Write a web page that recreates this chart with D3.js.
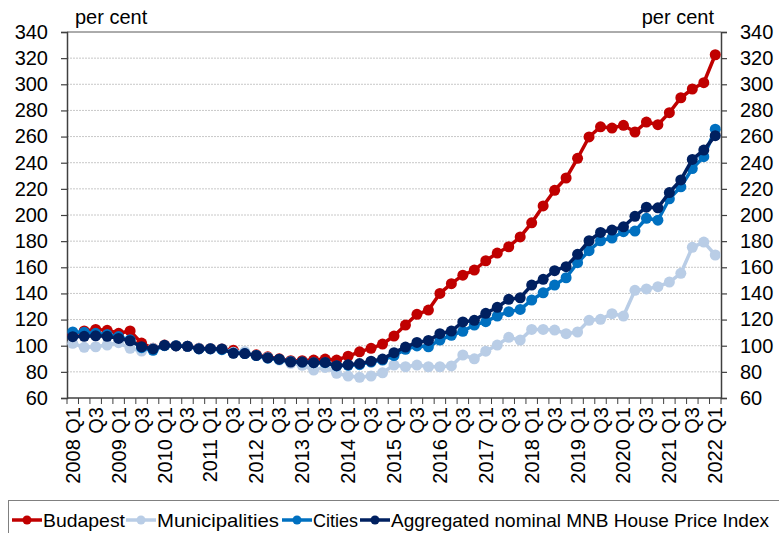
<!DOCTYPE html>
<html>
<head>
<meta charset="utf-8">
<script src="https://cdn.jsdelivr.net/npm/d3@7"></script>
<style>
  body { margin: 0; background: #fff; }
  text { font-family: "Liberation Sans", Arial, sans-serif; fill: #000; }
</style>
</head>
<body>
<div id="chart"></div>
<script>
// quarterly data, 2008 Q1 .. 2022 Q1
let years = d3.range(2008, 2023);
let quarters = [];
years.forEach(y => {
    for (let q = 1; q <= 4; q++) {
        if (y === 2022 && q > 1) break;
        quarters.push(y + " Q" + q);
    }
});

let budapest = [108.5, 111.3, 112.5, 111.8, 109.5, 111.3, 102, 98, 100.5, 100, 99.6, 98, 97.8, 97.5, 96.5, 94.5,
    93, 91.5, 90, 88.5, 88.5, 89, 89.8, 89, 92, 95.3, 98, 101.3, 107.4, 115.8, 124, 127.3,
    140, 147.5, 154, 157.9, 165, 170.9, 175.7, 183.2, 194, 206.9, 218.9, 228.3, 243.4, 259.7, 267.5, 266.5,
    268.6, 263.5, 271.1, 269.1, 278.3, 289.7, 296.4, 301.2, 322.6];

let municipalities = [101.8, 98.8, 99.2, 100.5, 102.3, 98, 95.9, 98, 100.3, 100, 99.5, 98, 97.8, 97.5, 95, 95.5,
    92.5, 91, 89, 86.5, 85, 81.4, 83.4, 78.9, 76.8, 75.8, 76.8, 79.3, 85.2, 83.9, 85.2, 83.9,
    83.9, 84.5, 92.9, 90, 95.8, 100.5, 106.4, 104.3, 112.5, 112.5, 112, 109.2, 110.5, 119.4, 120.2, 124.5,
    122.7, 142.4, 143.4, 145.2, 148.7, 155.4, 175.3, 179.3, 169.4];

let cities = [110.5, 110.3, 109.5, 108.5, 107, 104.5, 98.5, 96.5, 100, 100, 99.5, 97.5, 97.5, 97, 94.5, 94,
    92.5, 90.5, 89.5, 88, 87.5, 87, 87, 84.5, 85, 85.5, 87.5, 89, 92.5, 97.2, 99.8, 99.2,
    104.3, 108, 111, 115.8, 118.4, 122.7, 126, 127.8, 134.9, 140.5, 146.4, 152, 163.5, 172.7, 180.3, 182.4,
    187.2, 187.7, 197.5, 196, 212.4, 221.6, 235.5, 244.6, 265.6];

let aggregated = [106.9, 107.2, 107.6, 107.2, 105.6, 103.8, 99.2, 97.5, 100.3, 99.8, 99.5, 97.7, 97.7, 97.5, 94.2, 94,
    92.6, 90.8, 89.7, 87.5, 87.5, 87, 87.2, 84.7, 85.5, 86.3, 88.2, 89.8, 94.7, 99, 102.5, 104,
    109.2, 111.2, 118.2, 119.4, 124.8, 129.4, 135.5, 136.7, 146.4, 150.8, 157.4, 160.5, 169.9, 180.3, 186.7, 188.5,
    191, 199, 206, 205.5, 217.2, 226.8, 242.5, 249.7, 260.7];

let seriesNames = ["Budapest", "Municipalities", "Cities", "Aggregated nominal MNB House Price Index"];
let seriesColors = ["#c00000", "#b9cde6", "#0070c0", "#002060"];
let seriesValues = [budapest, municipalities, cities, aggregated];

let yTicks = d3.range(60, 341, 20);

let svgWidth = 779;
let svgHeight = 533;
let margin = { top: 32, right: 58, bottom: 135, left: 67 };
let width = svgWidth - margin.left - margin.right;
let height = svgHeight - margin.top - margin.bottom;

let svg = d3.select("#chart").append("svg")
    .attr("width", svgWidth)
    .attr("height", svgHeight);

let g = svg.append("g")
    .attr("transform", `translate(${margin.left}, ${margin.top})`);

let x = d3.scaleBand()
    .domain(quarters)
    .range([0, width])
    .padding(0);
let cx = d => x(d) + x.bandwidth() / 2;

let y = d3.scaleLinear()
    .domain([60, 340])
    .range([height, 0]);

// gridlines
g.append("g")
    .selectAll("line")
    .data(yTicks.filter(t => t > 60 && t < 340))
    .enter()
    .append("line")
    .attr("x1", 0)
    .attr("x2", width)
    .attr("y1", d => y(d))
    .attr("y2", d => y(d))
    .attr("stroke", "#c8c8c8")
    .attr("stroke-width", 1)
    .attr("stroke-dasharray", "2,1");

// top border
g.append("line")
    .attr("x1", 0).attr("x2", width)
    .attr("y1", y(340)).attr("y2", y(340))
    .attr("stroke", "#595959")
    .attr("stroke-width", 1);

// y axes
let leftAxis = g.append("g")
    .call(d3.axisLeft(y).tickValues(yTicks).tickSize(6).tickPadding(13));
let rightAxis = g.append("g")
    .attr("transform", `translate(${width}, 0)`)
    .call(d3.axisRight(y).tickValues(yTicks).tickSize(6).tickPadding(13));
[leftAxis, rightAxis].forEach(a => {
    a.select(".domain").attr("stroke", "#404040").attr("stroke-width", 1.5);
    a.selectAll(".tick line").attr("stroke", "#404040").attr("stroke-width", 1.2);
    a.selectAll("text").attr("font-size", "20px").attr("font-family", "Liberation Sans, Arial, sans-serif");
});

// x axis with ticks on category boundaries
let xAxisG = g.append("g").attr("transform", `translate(0, ${height})`);
xAxisG.append("line")
    .attr("x1", 0).attr("x2", width)
    .attr("stroke", "#404040")
    .attr("stroke-width", 1.5);
xAxisG.selectAll(".bt")
    .data(quarters.concat(["end"]))
    .enter()
    .append("line")
    .attr("x1", (d, i) => i < quarters.length ? x(d) : width)
    .attr("x2", (d, i) => i < quarters.length ? x(d) : width)
    .attr("y1", 0)
    .attr("y2", 6)
    .attr("stroke", "#404040")
    .attr("stroke-width", 1);

let xLabels = quarters.filter(q => q.endsWith("Q1") || q.endsWith("Q3"));
xAxisG.selectAll(".xl")
    .data(xLabels)
    .enter()
    .append("text")
    .attr("transform", d => `translate(${cx(d) + 7}, 9) rotate(-90)`)
    .attr("text-anchor", "end")
    .attr("font-size", "20px")
    .text(d => d.endsWith("Q1") ? d : "Q3");

// lines and markers
let line = d3.line()
    .x((d, i) => cx(quarters[i]))
    .y(d => y(d));

seriesValues.forEach((vals, s) => {
    let sg = g.append("g");
    sg.append("path")
        .datum(vals)
        .attr("fill", "none")
        .attr("stroke", seriesColors[s])
        .attr("stroke-width", 3.5)
        .attr("stroke-linejoin", "round")
        .attr("d", line);
    sg.selectAll("circle")
        .data(vals)
        .enter()
        .append("circle")
        .attr("cx", (d, i) => cx(quarters[i]))
        .attr("cy", d => y(d))
        .attr("r", 5.5)
        .attr("fill", seriesColors[s]);
});

// unit labels
svg.append("text")
    .attr("x", 75).attr("y", 24)
    .attr("font-size", "20px")
    .text("per cent");
svg.append("text")
    .attr("x", 714).attr("y", 24)
    .attr("text-anchor", "end")
    .attr("font-size", "20px")
    .text("per cent");

// legend
let legend = svg.append("g");
legend.append("rect")
    .attr("x", 8.5).attr("y", 500.5)
    .attr("width", 780).attr("height", 40)
    .attr("fill", "none")
    .attr("stroke", "#808080")
    .attr("stroke-width", 1);

let legendX = [12, 126, 282, 360];
let legendTextW = [82, 122, 45, 378];
seriesNames.forEach((name, s) => {
    let lx = legendX[s];
    legend.append("line")
        .attr("x1", lx).attr("x2", lx + 30)
        .attr("y1", 520).attr("y2", 520)
        .attr("stroke", seriesColors[s])
        .attr("stroke-width", 3.5);
    legend.append("circle")
        .attr("cx", lx + 15).attr("cy", 520)
        .attr("r", 4.5)
        .attr("fill", seriesColors[s]);
    legend.append("text")
        .attr("x", lx + 31).attr("y", 526.5)
        .attr("font-size", "19px")
        .attr("textLength", legendTextW[s])
        .attr("lengthAdjust", "spacingAndGlyphs")
        .text(name);
});
</script>
</body>
</html>
